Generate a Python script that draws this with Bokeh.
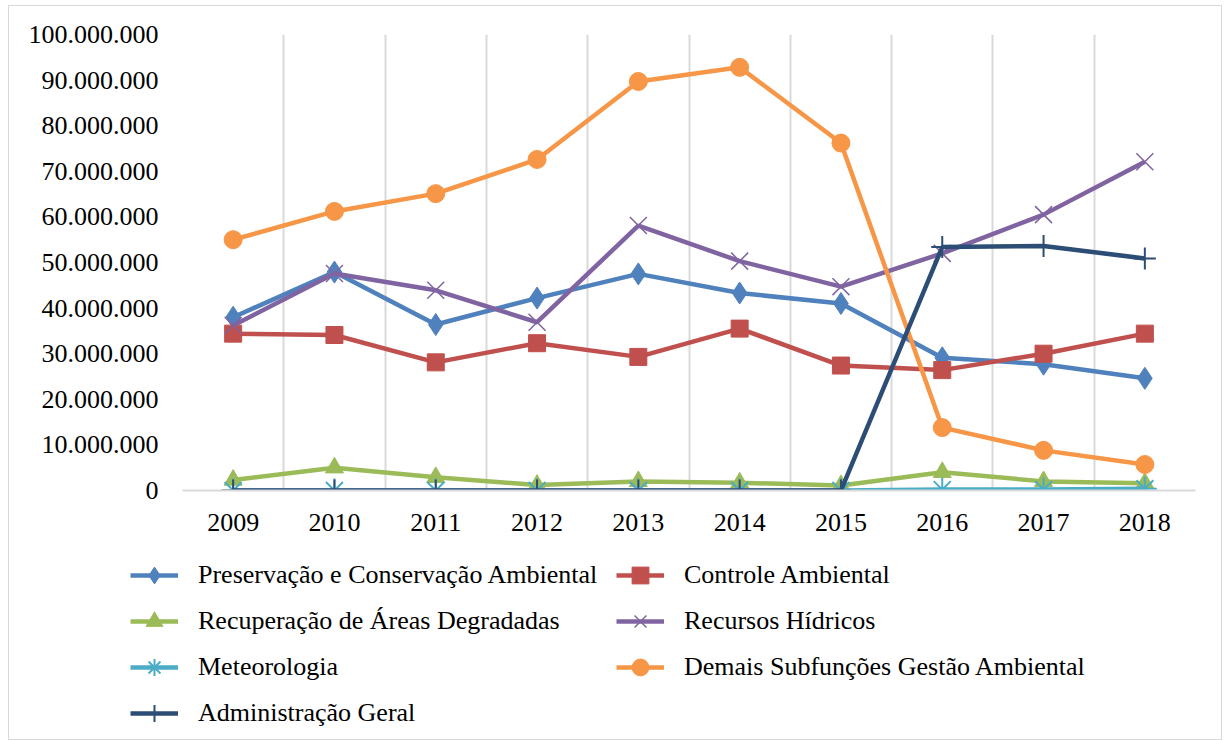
from bokeh.plotting import figure
from bokeh.models import Range1d, FixedTicker, Legend, LegendItem
from bokeh.layouts import column
from bokeh.embed import file_html
from bokeh.resources import INLINE

years = [2009, 2010, 2011, 2012, 2013, 2014, 2015, 2016, 2017, 2018]
year_labels = ["2009", "2010", "2011", "2012", "2013", "2014", "2015", "2016", "2017", "2018"]

preservacao = [38.0e6, 47.9e6, 36.4e6, 42.2e6, 47.5e6, 43.3e6, 41.0e6, 29.1e6, 27.7e6, 24.6e6]
controle = [34.4e6, 34.1e6, 28.1e6, 32.3e6, 29.3e6, 35.5e6, 27.4e6, 26.4e6, 30.0e6, 34.4e6]
recuperacao = [2.3e6, 5.0e6, 2.9e6, 1.2e6, 2.0e6, 1.7e6, 1.1e6, 4.0e6, 2.0e6, 1.6e6]
recursos = [36.2e6, 47.6e6, 43.9e6, 36.9e6, 58.1e6, 50.3e6, 44.7e6, 52.0e6, 60.5e6, 72.1e6]
meteorologia = [0, 0, 0, 0, 0, 0, 0, 0.2e6, 0.2e6, 0.4e6]
demais = [55.0e6, 61.2e6, 65.1e6, 72.6e6, 89.7e6, 92.8e6, 76.2e6, 13.8e6, 8.8e6, 5.7e6]
administracao = [0, 0, 0, 0, 0, 0, 0, 53.4e6, 53.6e6, 50.9e6]

y_ticks = [0, 10e6, 20e6, 30e6, 40e6, 50e6, 60e6, 70e6, 80e6, 90e6, 100e6]
y_tick_labels = ["0", "10.000.000", "20.000.000", "30.000.000", "40.000.000", "50.000.000",
                 "60.000.000", "70.000.000", "80.000.000", "90.000.000", "100.000.000"]

FONT = "Liberation Serif"
FS = "26px"

p = figure(width=1212, height=539, output_backend="svg", toolbar_location=None,
           x_range=Range1d(years[0] - 0.5, years[-1] + 0.5), y_range=Range1d(0, 100e6),
           min_border_left=173, min_border_right=26, min_border_top=28, min_border_bottom=55)
p.frame_align = False
p.outline_line_color = None
p.background_fill_color = "white"
p.border_fill_color = "white"

# axes
p.xaxis.ticker = FixedTicker(ticks=years)
p.xaxis.major_label_overrides = {y: l for y, l in zip(years, year_labels)}
p.xaxis.axis_line_color = "#d9d9d9"
p.xaxis.axis_line_width = 2
p.xaxis.major_tick_line_color = None
p.xaxis.minor_tick_line_color = None
p.xaxis.major_label_text_font = FONT
p.xaxis.major_label_text_font_size = FS
p.xaxis.major_label_text_color = "black"
p.xaxis.major_label_standoff = 17

p.yaxis.ticker = FixedTicker(ticks=y_ticks)
p.yaxis.major_label_overrides = {t: l for t, l in zip(y_ticks, y_tick_labels)}
p.yaxis.axis_line_color = None
p.yaxis.major_tick_line_color = None
p.yaxis.minor_tick_line_color = None
p.yaxis.major_label_text_font = FONT
p.yaxis.major_label_text_font_size = FS
p.yaxis.major_label_text_color = "black"
p.yaxis.major_label_standoff = 18

p.ygrid.grid_line_color = None
p.xgrid.ticker = FixedTicker(ticks=[y - 0.5 for y in years] + [years[-1] + 0.5])
p.xgrid.grid_line_color = "#d9d9d9"
p.xgrid.grid_line_width = 2

series = [
    ("Preservação e Conservação Ambiental", preservacao, "#4F81BD", "diamond", 22, 1),
    ("Controle Ambiental", controle, "#C0504D", "square", 17, 1),
    ("Recuperação de Áreas Degradadas", recuperacao, "#9BBB59", "triangle", 18, 1),
    ("Recursos Hídricos", recursos, "#8064A2", "x", 24, 1.5),
    ("Meteorologia", meteorologia, "#4BACC6", "asterisk", 24, 2),
    ("Demais Subfunções Gestão Ambiental", demais, "#F79646", "circle", 18, 1),
    ("Administração Geral", administracao, "#2C4D75", "cross", 22, 2),
]

# legend-only figure placed under the chart (its data lie outside its own ranges)
pl = figure(width=1212, height=194, output_backend="svg", toolbar_location=None,
            x_axis_location=None, y_axis_location=None,
            x_range=Range1d(0, 1), y_range=Range1d(0, 1),
            min_border_left=0, min_border_right=0, min_border_top=0, min_border_bottom=0)
pl.frame_align = False
pl.outline_line_color = None
pl.grid.visible = False
pl.background_fill_color = "white"
pl.border_fill_color = "white"

items = []
for label, vals, color, marker, size, mlw in series:
    p.line(years, vals, line_color=color, line_width=4.5)
    p.scatter(years, vals, marker=marker, size=size, fill_color=color,
              line_color=color, line_width=mlw)
    l1 = pl.line(years, vals, line_color=color, line_width=4.5)
    l2 = pl.scatter(years, vals, marker=marker, size=size, fill_color=color,
                    line_color=color, line_width=mlw)
    items.append(LegendItem(label=label, renderers=[l1, l2]))

order = [0, 2, 4, 6, 1, 3, 5]
legend = Legend(items=[items[i] for i in order], ncols=2, location=(121, 5))
legend.label_text_font = FONT
legend.label_text_font_size = FS
legend.label_text_color = "black"
legend.glyph_width = 48
legend.glyph_height = 42
legend.label_height = 26
legend.label_width = 414
legend.label_standoff = 20
legend.spacing = 4
legend.padding = 0
legend.margin = 0
legend.border_line_color = None
legend.background_fill_alpha = 0
pl.add_layout(legend, "center")

layout = column(p, pl, spacing=0,
                styles={"margin-left": "8px", "margin-top": "5px", "border": "1px solid #d9d9d9"})

open("out.html", "w").write(file_html(layout, INLINE))
